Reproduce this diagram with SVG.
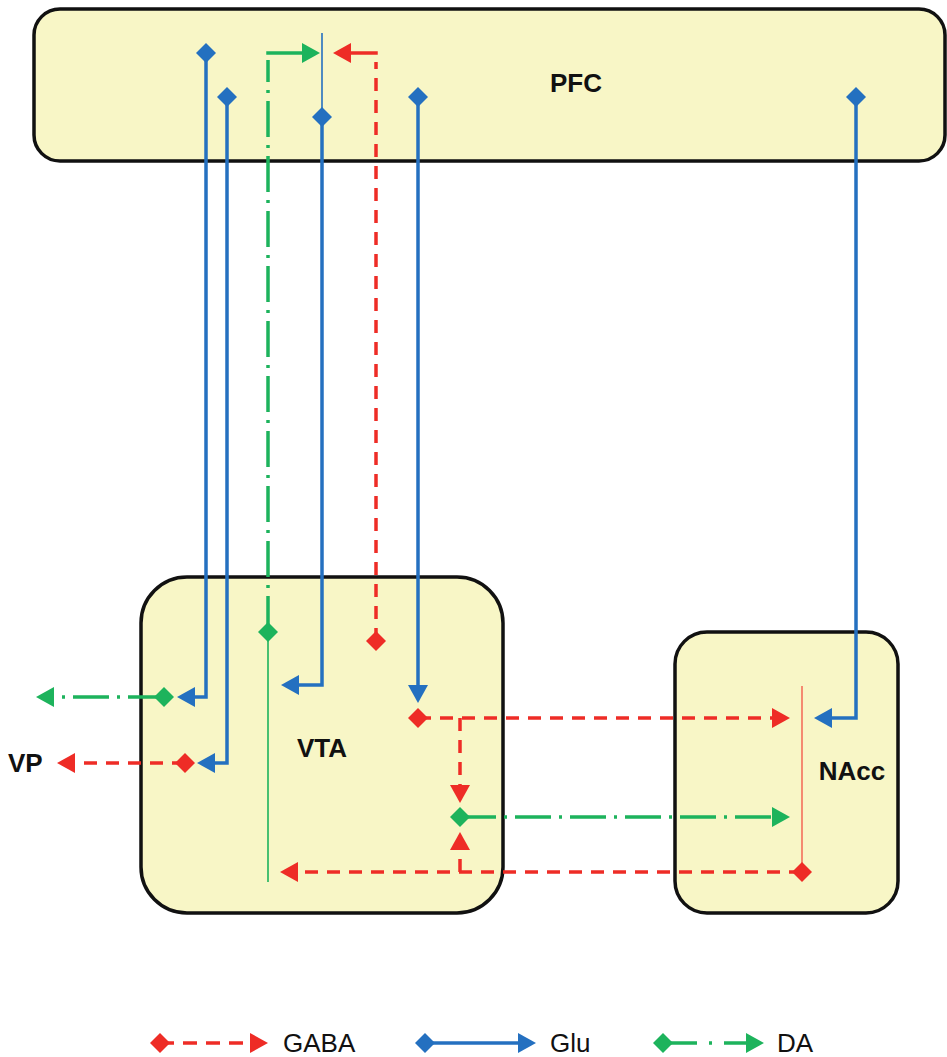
<svg xmlns="http://www.w3.org/2000/svg" width="947" height="1057" viewBox="0 0 947 1057">
<style>
.box{fill:#f8f6c6;stroke:#111;stroke-width:3.5}
.lbl{font-family:"Liberation Sans",Arial,sans-serif;font-weight:bold;font-size:26px;fill:#111}
.leg{font-family:"Liberation Sans",Arial,sans-serif;font-size:26px;fill:#111}
.glu{fill:none;stroke:#2470c0;stroke-width:3.5;marker-end:url(#aB)}
.gaba{fill:none;stroke:#ee2c26;stroke-width:3.5;stroke-dasharray:13 9;marker-end:url(#aR)}
.da{fill:none;stroke:#1db35c;stroke-width:3.5;stroke-dasharray:36 8 3 8;marker-end:url(#aG)}
.ds{marker-start:url(#dB)}
.dr{marker-start:url(#dR)}
.dg{marker-start:url(#dG)}
.thin{fill:none;stroke-width:1.6}
</style>
<defs>
<marker id="aB" viewBox="0 0 18 20" refX="12" refY="10" markerWidth="18" markerHeight="20" markerUnits="userSpaceOnUse" orient="auto"><path d="M0,0 L18,10 L0,20 z" fill="#2470c0"/></marker>
<marker id="aR" viewBox="0 0 18 20" refX="12" refY="10" markerWidth="18" markerHeight="20" markerUnits="userSpaceOnUse" orient="auto"><path d="M0,0 L18,10 L0,20 z" fill="#ee2c26"/></marker>
<marker id="aG" viewBox="0 0 18 20" refX="12" refY="10" markerWidth="18" markerHeight="20" markerUnits="userSpaceOnUse" orient="auto"><path d="M0,0 L18,10 L0,20 z" fill="#1db35c"/></marker>
<marker id="dB" viewBox="0 0 20 20" refX="10" refY="10" markerWidth="20" markerHeight="20" markerUnits="userSpaceOnUse" orient="auto"><path d="M10,0 L20,10 L10,20 L0,10 z" fill="#2470c0"/></marker>
<marker id="dR" viewBox="0 0 20 20" refX="10" refY="10" markerWidth="20" markerHeight="20" markerUnits="userSpaceOnUse" orient="auto"><path d="M10,0 L20,10 L10,20 L0,10 z" fill="#ee2c26"/></marker>
<marker id="dG" viewBox="0 0 20 20" refX="10" refY="10" markerWidth="20" markerHeight="20" markerUnits="userSpaceOnUse" orient="auto"><path d="M10,0 L20,10 L10,20 L0,10 z" fill="#1db35c"/></marker>
</defs>
<rect width="947" height="1057" fill="#fff"/>
<g id="PFC"><rect class="box" x="34" y="9" width="911" height="152" rx="26"/><text class="lbl" x="576" y="92" text-anchor="middle">PFC</text></g>
<g id="VTA"><rect class="box" x="141" y="577" width="362" height="336" rx="46"/><text class="lbl" x="322" y="757" text-anchor="middle">VTA</text></g>
<g id="NAcc"><rect class="box" x="675" y="632" width="223" height="281" rx="32"/><text class="lbl" x="852" y="780" text-anchor="middle">NAcc</text></g>
<g id="VP"><text class="lbl" x="8" y="772">VP</text></g>
<g id="connectors">
<path class="thin" stroke="#2470c0" d="M322,33 V117"/>
<path class="thin" stroke="#1db35c" d="M268,632 V882"/>
<path class="thin" stroke="#f4705c" d="M802,686 V872"/>
<path class="glu ds" d="M206,53 V697 H183"/>
<path class="glu ds" d="M227,97 V763 H203"/>
<path class="glu ds" d="M322,117 V685 H287"/>
<path class="glu ds" d="M418,97 V697"/>
<path class="glu ds" d="M856,97 V718 H820"/>
<path class="da dg" style="marker-end:none" d="M268,632 V60"/>
<path class="da" style="stroke-dasharray:none" d="M266.25,53 H314"/>
<path class="gaba dr" style="marker-end:none" d="M376,641 V62"/>
<path class="gaba" style="stroke-dasharray:none" d="M377.75,53 H339"/>
<path class="gaba dr" d="M418,718 H784"/>
<path class="gaba" d="M460,718 V797"/>
<path class="da dg" d="M460,817 H784"/>
<path class="gaba dr" d="M802,872 H286"/>
<path class="gaba" d="M460,872 V838"/>
<path class="da dg" d="M164,697 H42"/>
<path class="gaba dr" d="M185,763 H63"/>
</g>
<g id="legend">
<path class="gaba dr" style="stroke-dasharray:14 9" d="M160,1043 H262"/>
<text class="leg" x="283" y="1052">GABA</text>
<path class="glu ds" d="M425,1043 H530"/>
<text class="leg" x="550" y="1052">Glu</text>
<path class="da dg" style="stroke-dasharray:34 12 3 12" d="M663,1043 H758"/>
<text class="leg" x="777" y="1052">DA</text>
</g>
</svg>
